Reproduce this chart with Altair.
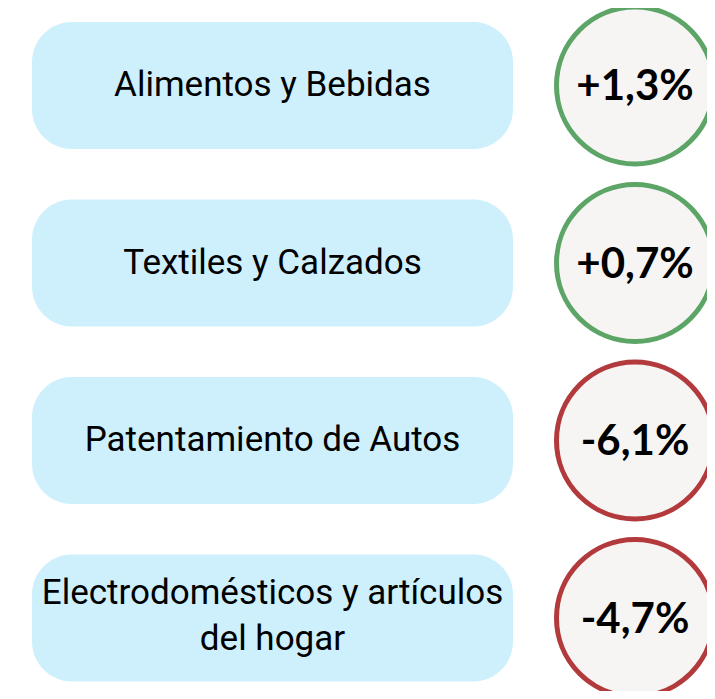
import altair as alt
import pandas as pd

categories = [
    "Alimentos y Bebidas",
    "Textiles y Calzados",
    "Patentamiento de Autos",
    "Electrodomésticos y artículos\ndel hogar",
]
changes = [1.3, 0.7, -6.1, -4.7]


def fmt(v):
    s = f"{v:+.1f}".replace(".", ",")
    return s + "%"


df = pd.DataFrame({
    "row": list(range(len(categories))),
    "categoria": categories,
    "cambio": changes,
    "etiqueta": [fmt(v) for v in changes],
    "signo": ["pos" if v >= 0 else "neg" for v in changes],
    "lineas": [c.count("\n") + 1 for c in categories],
})
df["y0"] = df["row"] - 0.358
df["y1"] = df["row"] + 0.358

W, H = 699, 683
yscale = alt.Scale(domain=[-0.4366, 3.4113], reverse=True, nice=False, zero=False)

base = alt.Chart(df)

boxes = base.mark_rect(color="#CDF0FC", cornerRadius=40).encode(
    x=alt.value(24),
    x2=alt.value(505),
    y=alt.Y("y0:Q", scale=yscale, axis=None),
    y2="y1:Q",
)

label_style = dict(font="Roboto", fontSize=35, color="#000000", align="center",
                   baseline="middle", lineBreak="\n", lineHeight=46)

labels1 = base.transform_filter("datum.lineas == 1").mark_text(**label_style).encode(
    x=alt.value(264.5),
    y=alt.Y("row:Q", scale=yscale, axis=None),
    text="categoria:N",
)

labels2 = base.transform_filter("datum.lineas == 2").mark_text(dy=-25, **label_style).encode(
    x=alt.value(264.5),
    y=alt.Y("row:Q", scale=yscale, axis=None),
    text="categoria:N",
)

circles = base.mark_point(
    shape="circle", size=157 * 157, filled=False, fill="#F6F5F4",
    fillOpacity=1, strokeWidth=5, opacity=1,
).encode(
    x=alt.value(627),
    y=alt.Y("row:Q", scale=yscale, axis=None),
    stroke=alt.Stroke("signo:N", scale=alt.Scale(domain=["pos", "neg"], range=["#5CA566", "#B33A3C"]), legend=None),
)

pct = base.mark_text(
    font="Lato", fontWeight="bold", fontSize=42, color="#000000",
    align="center", baseline="middle", dy=2,
).encode(
    x=alt.value(627),
    y=alt.Y("row:Q", scale=yscale, axis=None),
    text="etiqueta:N",
)

chart = alt.layer(boxes, labels1, labels2, circles, pct).properties(
    width=W, height=H, padding=0, autosize=alt.AutoSizeParams(type="none"),
    background="#FFFFFF",
).configure_view(stroke=None)

chart.save("out.html", embed_options={"renderer": "svg", "actions": False})
